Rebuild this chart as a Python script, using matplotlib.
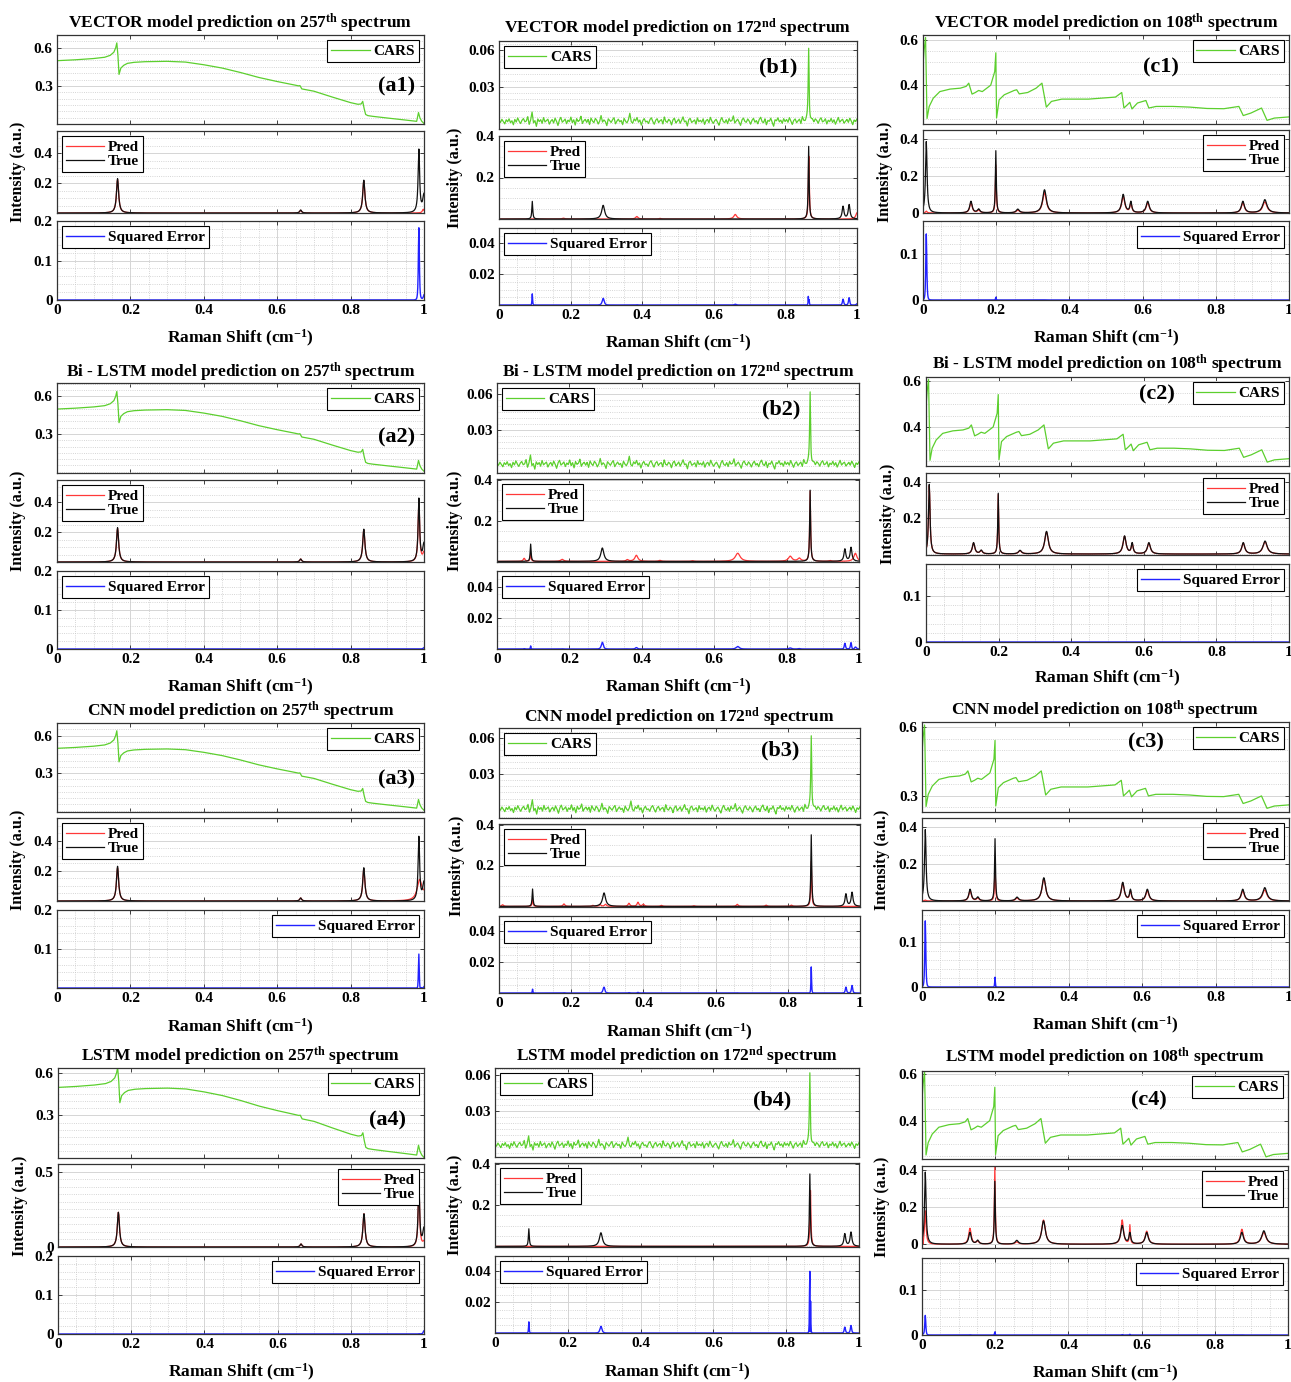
import numpy as np
import matplotlib
matplotlib.use("Agg")
import matplotlib.pyplot as plt
from matplotlib.ticker import MultipleLocator, FixedLocator, FuncFormatter, NullFormatter

plt.rcParams['font.family'] = ['Liberation Serif', 'DejaVu Serif']
plt.rcParams['font.weight'] = 'bold'
plt.rcParams['mathtext.fontset'] = 'custom'
plt.rcParams['mathtext.rm'] = 'Liberation Serif:bold'
plt.rcParams['mathtext.bf'] = 'Liberation Serif:bold'
plt.rcParams['mathtext.it'] = 'Liberation Serif:bold:italic'

# ---------------- data ----------------
models = ['VECTOR', 'Bi - LSTM', 'CNN', 'LSTM']
spectra = ['257', '172', '108']
suffixes = ['th', 'nd', 'th']
col_letters = ['a', 'b', 'c']

# CARS, spectrum 257 (knots)
cars_257_x = [0.0, 0.05, 0.1, 0.13, 0.145, 0.155, 0.16, 0.163, 0.166, 0.169,
              0.174, 0.182, 0.192, 0.21, 0.24, 0.3, 0.35, 0.4, 0.45, 0.5,
              0.55, 0.6, 0.65, 0.658, 0.662, 0.667, 0.7, 0.75, 0.8, 0.82,
              0.829, 0.833, 0.837, 0.841, 0.847, 0.861, 0.9, 0.95, 0.98, 0.985,
              0.989, 0.994, 1.0]
cars_257_y = [0.498, 0.505, 0.515, 0.525, 0.54, 0.565, 0.6, 0.638, 0.54, 0.39,
              0.44, 0.462, 0.477, 0.485, 0.49, 0.493, 0.487, 0.466, 0.44, 0.405,
              0.366, 0.334, 0.305, 0.300, 0.302, 0.276, 0.258, 0.212, 0.168, 0.155,
              0.158, 0.178, 0.12, 0.075, 0.066, 0.06, 0.047, 0.031, 0.021, 0.09,
              0.047, 0.021, 0.004]

# CARS, spectrum 172: noisy baseline (units of 1e-3) + one resonance
cars_172_noise_milli = [
    2.1, 0.4, 3.0, 1.2, -0.8, 2.6, 1.0, 3.4, 0.2, 1.8, -1.5, 2.9, 0.7, 4.1, 1.3, -0.5, 2.2, 3.6, 0.9, 1.6, 5.2, -1.2, 2.4, 9.0, 0.1,
    1.9, -2.8, 3.3, 1.1, 2.7, -0.3, 4.4, 0.8, 2.0, 3.1, -1.0, 1.5, 2.8, 0.0, 3.9, 1.4, -2.1, 2.5, 4.6, 0.6, 1.7, 3.2, -0.6, 2.3, 1.0,
    4.8, 0.3, 2.6, -1.7, 3.5, 1.2, 2.1, 5.5, -0.4, 1.8, 3.0, 0.5, 2.9, -1.3, 4.0, 1.6, 0.2, 3.7, 2.2, -0.9, 1.4, 6.1, 0.7, 2.5, 1.1,
    -2.2, 3.4, 1.9, 0.4, 2.8, 4.3, -0.7, 1.5, 3.1, 0.9, 2.0, -1.4, 3.8, 1.3, 0.1, 2.6, 8.0, 1.0, -0.2, 3.3, 1.7, 4.5, 0.6, 2.4, -1.8,
    2.0, 3.6, 0.8, 1.5, -0.5, 2.9, 4.2, 1.1, -1.1, 2.3, 3.5, 0.3, 1.9, 2.7, -0.8, 4.9, 1.2, 0.5, 3.0, 1.8, -1.6, 2.6, 3.9, 0.0, 1.4,
    3.2, -0.3, 2.1, 5.0, 0.9, 1.6, -2.5, 2.8, 3.7, 0.4, 1.3, 2.5, -0.9, 4.1, 1.0, 2.2, 0.6, 3.4, -1.2, 1.9, 2.9, 0.2, 4.6, 1.5, -0.4,
    1.8, 3.0, 0.7, -1.9, 2.4, 4.4, 1.1, 0.3, 2.7, -0.6, 3.6, 1.4, 2.0, 5.8, -0.1, 1.7, 3.1, 0.8, -2.0, 2.5, 4.0, 1.2, 0.5, 3.3, 1.6,
    -1.0, 2.2, 3.8, 0.6, 1.9, -0.7, 2.9, 4.7, 1.0, 0.2, 3.4, -1.5, 2.1, 1.3, 3.9, 0.4, -2.7, 2.6, 1.8, 4.2, 0.9, 2.3, -0.3, 3.5, 1.1,
    2.8, 0.5, 4.3, 1.6, -1.3, 2.0, 3.2, 0.1, 1.7, 2.9, -0.8, 4.8, 1.4, 0.7, 2.5, 3.6, -1.6, 1.2, 2.4, 0.3, 3.0, 1.9, -0.5, 2.7, 4.1,
    0.8, 1.5, 3.4, -0.9, 2.2, 1.0, 3.7, 0.4, 2.6, -1.1, 1.8, 4.5, 0.6, 2.1, 3.0, -0.2, 1.3, 2.9, 0.5, 3.8, 1.6, -1.4, 2.4, 1.1, 3.3]
cars_172_peaks = [(0.865, 0.060, 0.0015)]

# CARS, spectrum 108 (knots)
cars_108_x = [0.0, 0.003, 0.007, 0.011, 0.017, 0.028, 0.046, 0.074, 0.102, 0.118,
              0.125, 0.134, 0.143, 0.152, 0.162, 0.185, 0.196, 0.199, 0.201, 0.208,
              0.222, 0.249, 0.256, 0.263, 0.286, 0.309, 0.325, 0.337, 0.351, 0.379,
              0.452, 0.526, 0.543, 0.549, 0.559, 0.565, 0.571, 0.586, 0.609, 0.617,
              0.637, 0.683, 0.729, 0.776, 0.822, 0.863, 0.875, 0.896, 0.925, 0.94,
              0.96, 1.0]
cars_108_y = [0.488, 0.554, 0.609, 0.254, 0.307, 0.343, 0.372, 0.383, 0.387, 0.395,
              0.409, 0.361, 0.368, 0.377, 0.372, 0.40, 0.46, 0.542, 0.256, 0.336,
              0.358, 0.377, 0.38, 0.362, 0.368, 0.387, 0.409, 0.304, 0.329, 0.339,
              0.339, 0.348, 0.368, 0.30, 0.315, 0.325, 0.296, 0.322, 0.333, 0.30,
              0.307, 0.307, 0.304, 0.298, 0.297, 0.307, 0.267, 0.278, 0.30, 0.246,
              0.256, 0.261]

# True Raman peaks (center, height, half-width)
true_257 = [(0.165, 0.23, 0.0035), (0.664, 0.02, 0.003), (0.836, 0.22, 0.0035),
            (0.986, 0.42, 0.0025), (1.0, 0.12, 0.004)]
true_172 = [(0.093, 0.085, 0.0015), (0.291, 0.066, 0.005), (0.865, 0.35, 0.0015),
            (0.961, 0.06, 0.003), (0.978, 0.068, 0.003)]
true_108 = [(0.009, 0.387, 0.0025), (0.131, 0.063, 0.004), (0.152, 0.02, 0.004),
            (0.199, 0.337, 0.0015), (0.259, 0.02, 0.005), (0.332, 0.126, 0.006),
            (0.547, 0.10, 0.005), (0.568, 0.058, 0.003), (0.614, 0.063, 0.005),
            (0.874, 0.063, 0.005), (0.934, 0.072, 0.007)]

# Predicted peaks per model
pred_257_vector = [(0.165, 0.225, 0.0035), (0.664, 0.018, 0.003), (0.836, 0.215, 0.0035), (0.998, 0.025, 0.003)]
pred_257_bilstm = [(0.165, 0.225, 0.0035), (0.664, 0.02, 0.003), (0.836, 0.215, 0.0035), (0.986, 0.41, 0.0025), (1.0, 0.06, 0.004)]
pred_257_cnn = [(0.165, 0.22, 0.0035), (0.664, 0.02, 0.003), (0.836, 0.21, 0.0035), (0.988, 0.14, 0.008), (1.0, 0.03, 0.004)]
pred_257_lstm = [(0.165, 0.23, 0.0035), (0.664, 0.02, 0.003), (0.836, 0.22, 0.0035), (0.986, 0.40, 0.0025), (1.0, 0.03, 0.004)]

pred_172_vector = [(0.18, 0.004, 0.004), (0.385, 0.012, 0.004), (0.45, 0.003, 0.003), (0.66, 0.022, 0.005),
                   (0.8655, 0.335, 0.0015), (1.0, 0.03, 0.004)]
pred_172_bilstm = [(0.075, 0.015, 0.003), (0.093, 0.04, 0.0015), (0.18, 0.01, 0.005), (0.36, 0.008, 0.004),
                   (0.385, 0.03, 0.005), (0.45, 0.005, 0.004), (0.54, 0.003, 0.004), (0.665, 0.04, 0.008),
                   (0.81, 0.025, 0.006), (0.835, 0.015, 0.005), (0.865, 0.345, 0.0015), (0.92, 0.004, 0.004),
                   (0.99, 0.04, 0.005)]
pred_172_cnn = [(0.01, 0.008, 0.003), (0.093, 0.035, 0.0015), (0.18, 0.012, 0.003), (0.26, 0.005, 0.003),
                (0.28, 0.008, 0.003), (0.295, 0.01, 0.003), (0.36, 0.015, 0.003), (0.385, 0.02, 0.003),
                (0.40, 0.01, 0.003), (0.45, 0.005, 0.003), (0.54, 0.003, 0.003), (0.66, 0.01, 0.003),
                (0.74, 0.006, 0.003), (0.81, 0.006, 0.003), (0.865, 0.22, 0.0015)]
pred_172_lstm = [(0.8665, 0.30, 0.0015)]

pred_108_vector = [(0.009, 0.01, 0.0025), (0.131, 0.055, 0.004), (0.152, 0.015, 0.004), (0.199, 0.26, 0.0015),
                   (0.259, 0.015, 0.005), (0.332, 0.11, 0.006), (0.547, 0.09, 0.005), (0.568, 0.05, 0.003),
                   (0.614, 0.055, 0.005), (0.874, 0.055, 0.005), (0.934, 0.06, 0.007)]
pred_108_bilstm = [(0.009, 0.38, 0.0025), (0.131, 0.06, 0.004), (0.152, 0.018, 0.004), (0.199, 0.33, 0.0015),
                   (0.259, 0.018, 0.005), (0.332, 0.122, 0.006), (0.547, 0.097, 0.005), (0.568, 0.055, 0.003),
                   (0.614, 0.06, 0.005), (0.874, 0.06, 0.005), (0.934, 0.068, 0.007)]
pred_108_cnn = [(0.009, 0.005, 0.0025), (0.131, 0.055, 0.004), (0.152, 0.015, 0.004), (0.199, 0.19, 0.0015),
                (0.259, 0.015, 0.005), (0.332, 0.12, 0.006), (0.547, 0.095, 0.005), (0.568, 0.05, 0.003),
                (0.614, 0.055, 0.005), (0.874, 0.055, 0.005), (0.934, 0.06, 0.007)]
pred_108_lstm = [(0.003, -0.025, 0.0012), (0.009, 0.18, 0.0025), (0.131, 0.085, 0.004), (0.152, 0.015, 0.004),
                 (0.199, 0.42, 0.0015), (0.259, 0.012, 0.005), (0.332, 0.13, 0.006), (0.547, 0.13, 0.004),
                 (0.568, 0.10, 0.0015), (0.614, 0.07, 0.005), (0.874, 0.08, 0.005), (0.934, 0.065, 0.007)]

# axis settings (limits / ticks) per column, rows 1..4
cars_ylims = [[(0, 0.70), (-0.01, 0.705), (-0.01, 0.70), (0, 0.635)],
              [(-0.005, 0.0676), (-0.006, 0.069), (-0.006, 0.068), (-0.0086, 0.0656)],
              [(0.23, 0.62), (0.229, 0.619), (0.23, 0.622), (0.237, 0.611)]]
cars_ticks = [[[0.3, 0.6]] * 4, [[0.03, 0.06]] * 4,
              [[0.4, 0.6], [0.4, 0.6], [0.3, 0.6], [0.4, 0.6]]]
pred_ylims = [[(0, 0.55)] * 4, [(0, 0.4), (-0.003, 0.405), (-0.003, 0.403), (-0.003, 0.403)],
              [(0, 0.45), (-0.005, 0.45), (0, 0.45), (-0.02, 0.42)]]
pred_ticks = [[[0.2, 0.4], [0.2, 0.4], [0.2, 0.4], [0, 0.5]], [[0.2, 0.4]] * 4,
              [[0, 0.2, 0.4], [0.2, 0.4], [0.2, 0.4], [0, 0.2, 0.4]]]
se_ylims = [[(0, 0.2)] * 4, [(0, 0.05)] * 4, [(0, 0.17)] * 4]
se_ticks = [[[0, 0.1, 0.2], [0, 0.1, 0.2], [0.1, 0.2], [0, 0.1, 0.2]], [[0.02, 0.04]] * 4, [[0, 0.1]] * 4]
minor_steps = [(0.05, 0.05, 0.02), (0.005, 0.05, 0.005), (0.05, 0.05, 0.02)]

# ---------------- layout (pixels) ----------------
W, H = 1291, 1382
# left, right, cars_top, cars_bot, pred_top, pred_bot, se_top, se_bot, title_y, xlabel_y, ylabel_x
geom = [
    [(57, 424, 35, 124, 131, 213, 221, 300, 23, 338, 18),
     (57, 424, 383, 473, 480, 562, 571, 649, 372, 687, 18),
     (57, 424, 723, 812, 818, 901, 910, 988, 711, 1027, 18),
     (58, 424, 1068, 1158, 1164, 1247, 1256, 1334, 1056, 1372, 20)],
    [(499, 857, 41, 129, 136, 219, 228, 305, 28, 343, 455),
     (497, 859, 383, 473, 479, 562, 571, 649, 372, 687, 455),
     (499, 860, 728, 818, 824, 907, 916, 993, 717, 1032, 457),
     (495, 859, 1068, 1157, 1163, 1247, 1256, 1333, 1056, 1372, 455)],
    [(923, 1289, 35, 124, 130, 213, 221, 300, 23, 338, 885),
     (926, 1289, 377, 466, 473, 555, 564, 642, 364, 678, 888),
     (922, 1289, 722, 812, 818, 901, 910, 987, 710, 1025, 882),
     (922, 1288, 1071, 1159, 1166, 1248, 1258, 1335, 1057, 1373, 882)],
]
label_pos = [[(0.926, 0.42), (0.926, 0.40), (0.926, 0.36), (0.90, 0.42)],
             [(0.78, 0.70), (0.785, 0.71), (0.78, 0.755), (0.76, 0.64)],
             [(0.65, 0.64), (0.635, 0.80), (0.61, 0.77), (0.62, 0.67)]]
cars_loc = ['upper right', 'upper left', 'upper right']
pred_loc = [['upper left', 'upper left', 'upper left', 'upper right'], ['upper left'] * 4, ['upper right'] * 4]
se_loc = [['upper left', 'upper left', 'upper right', 'upper right'], ['upper left'] * 4, ['upper right'] * 4]

GREEN = '#5CCF2E'
RED = '#FF3838'
BLACK = '#111111'
BLUE = '#2222FF'

x = np.linspace(0, 1, 1001)


def lorentz_sum(xv, peaks):
    y = np.zeros_like(xv)
    for c, h, w in peaks:
        y += h / (1 + ((xv - c) / w) ** 2)
    return y


noise_x = np.linspace(0, 1, len(cars_172_noise_milli))
xb = np.union1d(noise_x, x)
cars_curves = [
    (np.array(cars_257_x), np.array(cars_257_y)),
    (xb, np.interp(xb, noise_x, np.array(cars_172_noise_milli) / 1000.0) + lorentz_sum(xb, cars_172_peaks)),
    (np.array(cars_108_x), np.array(cars_108_y)),
]
true_peaks = [true_257, true_172, true_108]
pred_peaks = [[pred_257_vector, pred_257_bilstm, pred_257_cnn, pred_257_lstm],
              [pred_172_vector, pred_172_bilstm, pred_172_cnn, pred_172_lstm],
              [pred_108_vector, pred_108_bilstm, pred_108_cnn, pred_108_lstm]]

fig = plt.figure(figsize=(W / 100, H / 100), dpi=100)


def rect(l, r, t, b):
    return [l / W, 1 - b / H, (r - l) / W, (b - t) / H]


fmt = FuncFormatter(lambda v, p: ('%g' % round(v, 6)))


def style(ax, ylim, yticks, minor_y, xgrid, xlabels):
    ax.set_xlim(0, 1)
    ax.set_ylim(*ylim)
    ax.yaxis.set_major_locator(FixedLocator(yticks))
    ax.yaxis.set_minor_locator(MultipleLocator(minor_y))
    ax.xaxis.set_major_locator(MultipleLocator(0.2))
    ax.xaxis.set_minor_locator(MultipleLocator(0.05))
    ax.yaxis.set_major_formatter(fmt)
    if xlabels:
        ax.xaxis.set_major_formatter(fmt)
    else:
        ax.xaxis.set_major_formatter(NullFormatter())
    ax.set_axisbelow(True)
    gaxis = 'both' if xgrid else 'y'
    ax.grid(True, which='major', axis=gaxis, color='#d5d5d5', linewidth=0.7, linestyle='-')
    ax.grid(True, which='minor', axis=gaxis, color='#c8c8c8', linewidth=0.6, linestyle=':')
    ax.tick_params(which='major', direction='in', length=3, width=0.6, top=True, right=True,
                   labelsize=11, pad=3, colors='#222222', labelcolor='black')
    ax.tick_params(which='minor', length=0)
    for s in ax.spines.values():
        s.set_color('#333333')
        s.set_linewidth(0.9)


def legend(ax, loc):
    lg = ax.legend(loc=loc, fontsize=11, frameon=True, fancybox=False, framealpha=1,
                   edgecolor='black', handlelength=2.5, handletextpad=0.25,
                   borderpad=0.25, labelspacing=0.05, borderaxespad=0.35)
    lg.get_frame().set_linewidth(0.8)


for ci in range(3):
    for ri in range(4):
        l, r, ct, cb, pt, pb, st, sb, ty, xly, ylx = geom[ci][ri]
        ax1 = fig.add_axes(rect(l, r, ct, cb))
        ax2 = fig.add_axes(rect(l, r, pt, pb))
        ax3 = fig.add_axes(rect(l, r, st, sb))
        mc, mp, ms = minor_steps[ci]

        cx, cy = cars_curves[ci]
        ax1.plot(cx, cy, color=GREEN, lw=0.9, label='CARS')
        style(ax1, cars_ylims[ci][ri], cars_ticks[ci][ri], mc, False, False)
        legend(ax1, cars_loc[ci])
        fx, fy = label_pos[ci][ri]
        ax1.text(fx, fy, '(%s%d)' % (col_letters[ci], ri + 1), transform=ax1.transAxes,
                 ha='center', va='center', fontsize=16, fontweight='bold')

        yt = lorentz_sum(x, true_peaks[ci])
        yp = lorentz_sum(x, pred_peaks[ci][ri])
        ax2.plot(x, yp, color=RED, lw=0.9, label='Pred')
        ax2.plot(x, yt, color=BLACK, lw=0.9, label='True')
        style(ax2, pred_ylims[ci][ri], pred_ticks[ci][ri], mp, False, False)
        legend(ax2, pred_loc[ci][ri])

        se = (yp - yt) ** 2
        ax3.plot(x, se, color=BLUE, lw=1.0, label='Squared Error')
        style(ax3, se_ylims[ci][ri], se_ticks[ci][ri], ms, True, True)
        legend(ax3, se_loc[ci][ri])

        xc = (l + r) / 2
        fig.text(xc / W, 1 - ty / H,
                 '%s model prediction on %s$^{\\rm %s}$ spectrum' % (models[ri], spectra[ci], suffixes[ci]),
                 ha='center', va='center', fontsize=12.5, fontweight='bold')
        fig.text(xc / W, 1 - xly / H, 'Raman Shift (cm$^{\\rm {-}1}$)',
                 ha='center', va='center', fontsize=12.5, fontweight='bold')
        fig.text(ylx / W, 1 - (pt + pb) / 2 / H, 'Intensity (a.u.)', rotation=90,
                 ha='center', va='center', fontsize=11.5, fontweight='bold')

fig.savefig('out.png', dpi=100)
